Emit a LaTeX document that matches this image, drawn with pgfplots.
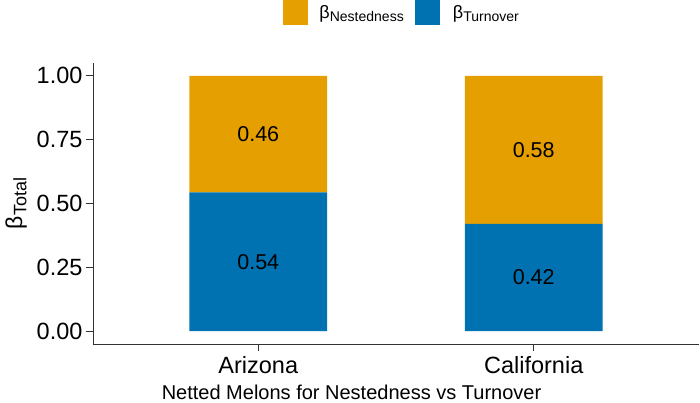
\documentclass[border=0pt]{standalone}
\usepackage{fontspec}
\setmainfont{Liberation Sans}
\usepackage{pgfplots}
\pgfplotsset{compat=1.18}
\definecolor{cOrange}{HTML}{E69F00}
\definecolor{cBlue}{HTML}{0072B2}
\definecolor{axcol}{HTML}{333333}
\newcommand{\fs}[1]{\fontsize{#1bp}{#1bp}\selectfont}
\begin{document}
\begin{tikzpicture}
\useasboundingbox (-93bp,-59bp) rectangle (607bp,344bp);
\begin{axis}[
  at={(0,0)}, anchor=south west,
  scale only axis, width=606bp, height=281bp,
  xmin=0.4, xmax=2.6, ymin=-0.05, ymax=1.05,
  ybar stacked, bar width=0.5,
  axis x line*=bottom, axis y line*=left,
  axis line style={axcol, line width=0.8bp},
  xtick={1,2}, xticklabels={Arizona,California},
  ytick={0,0.25,0.5,0.75,1},
  yticklabels={0.00,0.25,0.50,0.75,1.00},
  tick align=outside, major tick length=7bp,
  tick style={axcol, line width=0.8bp},
  /pgf/number format/assume math mode=true,
  ticklabel style={font=\fs{23.5}, text=black},
  xticklabel style={yshift=-2bp},
  yticklabel style={xshift=0bp},
  xlabel={Netted Melons for Nestedness vs Turnover},
  xlabel style={font=\fs{20}, yshift=-4bp, xshift=-44.5bp},
  ylabel={β\raisebox{-0.35ex}{\fs{18}Total}},
  ylabel style={font=\fs{23}, yshift=3bp},
  legend columns=2,
  legend style={at={(0.51,1.18)}, anchor=center, draw=none, fill=none,
    /tikz/every even column/.append style={column sep=9bp},
    font=\fs{18}},
  legend cell align=left,
]
\addplot[fill=cBlue, draw=none, forget plot] coordinates {(1,0.544) (2,0.42)};
\addplot[fill=cOrange, draw=none, forget plot] coordinates {(1,0.456) (2,0.58)};
\addlegendimage{legend image code/.code={\fill[cOrange] (0bp,-12bp) rectangle (24bp,12bp); \path[draw=none,fill=none] (0bp,0bp) -- (34bp,0bp);}}
\addlegendentry{β\raisebox{-0.35ex}{\fs{14}Nestedness}}
\addlegendimage{legend image code/.code={\fill[cBlue] (0bp,-12bp) rectangle (24bp,12bp); \path[draw=none,fill=none] (0bp,0bp) -- (36bp,0bp);}}
\addlegendentry{β\raisebox{-0.35ex}{\fs{14}Turnover}}
\end{axis}
\begin{axis}[
  at={(0,0)}, anchor=south west,
  scale only axis, width=606bp, height=281bp,
  xmin=0.4, xmax=2.6, ymin=-0.05, ymax=1.05,
  hide axis,
  nodes near coords, point meta=explicit symbolic,
  nodes near coords align=center,
  every node near coord/.append style={font=\fs{21.5}, text=black, anchor=center},
]
\addplot[draw=none, mark=none] table[meta=lab] {
x y lab
1 0.272 0.54
1 0.772 0.46
2 0.21 0.42
2 0.71 0.58
};
\end{axis}
\end{tikzpicture}
\end{document}
